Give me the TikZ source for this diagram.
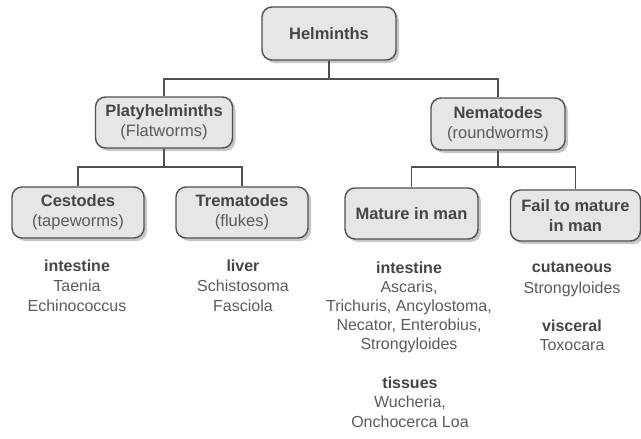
\documentclass[tikz,border=0pt]{standalone}
\usepackage{fontspec}
\setmainfont{Liberation Sans}
\usetikzlibrary{shadows}
\definecolor{txt}{HTML}{5A5A5A}
\definecolor{head}{HTML}{454545}
\definecolor{boxfill}{HTML}{E6E6E6}
\definecolor{boxline}{HTML}{505050}
\newcommand{\hd}[1]{\textbf{\textcolor{head}{#1}}}
\tikzset{
  taxon/.style={draw=boxline, line width=1.4pt, fill=boxfill, rounded corners=10pt,
    align=center, text=head, inner sep=2pt,
    drop shadow={shadow xshift=3pt, shadow yshift=-3pt, fill=black!40, opacity=0.55},
    font=\fontsize{16.5}{20}\selectfont},
  wire/.style={draw=boxline, line width=1.3pt},
  list/.style={align=center, text=txt, inner sep=0pt, anchor=north,
    font=\fontsize{16}{20}\selectfont},
}
\begin{document}
\begin{tikzpicture}[x=1pt,y=-1pt]
\useasboundingbox (0,0) rectangle (641,439);
% boxes
\node[taxon, minimum width=134pt, minimum height=53pt] (helm) at (329,33.5) {\textbf{Helminths}};
\node[taxon, minimum width=137pt, minimum height=51pt] (platy) at (164,122.5) {\textbf{Platyhelminths}\\\textcolor{txt}{(Flatworms)}};
\node[taxon, minimum width=134pt, minimum height=52pt] (nema) at (498,124) {\textbf{Nematodes}\\\textcolor{txt}{(roundworms)}};
\node[taxon, minimum width=132pt, minimum height=51pt] (cest) at (78,212.5) {\textbf{Cestodes}\\\textcolor{txt}{(tapeworms)}};
\node[taxon, minimum width=132pt, minimum height=51pt] (trem) at (242,212.5) {\textbf{Trematodes}\\\textcolor{txt}{(flukes)}};
\node[taxon, minimum width=133pt, minimum height=51pt] (mat) at (411.5,213.5) {\textbf{Mature in man}};
\node[taxon, minimum width=130pt, minimum height=51pt] (fail) at (575.5,215.5) {\textbf{Fail to mature}\\\textbf{in man}};
% junctions
\coordinate (j1) at (329,79);
\coordinate (j2) at (164,167);
\coordinate (j3) at (498,167);
\draw[wire] (helm.south) -- (j1) -| (platy.north);
\draw[wire] (j1) -| (nema.north);
\draw[wire] (platy.south) -- (j2) -| (cest.north);
\draw[wire] (j2) -| (trem.north);
\draw[wire] (nema.south) -- (j3) -| (mat.north);
\draw[wire] (j3) -| (fail.north);
% lists
\node[list] (l1) at (77,259.5) {\hd{intestine}\\Taenia\\Echinococcus};
\node[list] (l2) at (243,259.5) {\hd{liver}\\Schistosoma\\Fasciola};
\node[list, font=\fontsize{16}{19}\selectfont] (l3) at (409,261.5) {\hd{intestine}\\Ascaris,\\Trichuris, Ancylostoma,\\Necator, Enterobius,\\Strongyloides};
\node[list, font=\fontsize{16}{19.5}\selectfont] (l4) at (410,376.5) {\hd{tissues}\\Wucheria,\\Onchocerca Loa};
\node[list, font=\fontsize{16}{21}\selectfont] (l5) at (572,261.5) {\hd{cutaneous}\\Strongyloides};
\node[list, font=\fontsize{16}{19}\selectfont] (l6) at (572,320) {\hd{visceral}\\Toxocara};
\end{tikzpicture}
\end{document}
